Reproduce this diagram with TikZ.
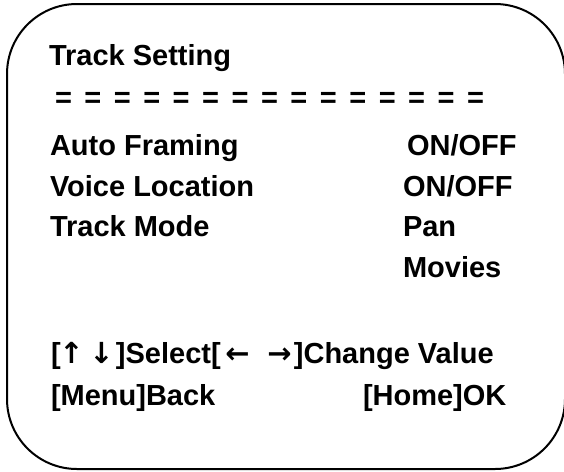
\documentclass[tikz,border=0pt]{standalone}
\usepackage{fontspec}
\setmainfont{Liberation Sans}
\newfontfamily\arrowfont{DejaVu Sans}
\newcommand{\ar}[1]{\makebox[0pt]{\arrowfont\bfseries #1}}
\begin{document}
\begin{tikzpicture}[x=1pt,y=-1pt,
  txt/.style={anchor=base west,inner sep=0pt,outer sep=0pt,font=\fontsize{29}{35}\selectfont\bfseries},
  frame/.style={draw=black,line width=2pt,rounded corners=70pt}]
\useasboundingbox (0,0) rectangle (564,471);
\clip (0,0) rectangle (564,471);
\draw[frame] (7,4) rectangle (565,469);
\node[txt] (title) at (49,65) {Track Setting};
\node[txt] (sep) at (55,107) {\spaceskip=12.5pt plus 0pt minus 0pt = = = = = = = = = = = = = = =};
\node[txt] (af) at (50,155) {Auto Framing};
\node[txt] (afv) at (407,155) {ON/OFF};
\node[txt] (vl) at (50,196) {Voice Location};
\node[txt] (vlv) at (403,196) {ON/OFF};
\node[txt] (tm) at (50,236) {Track Mode};
\node[txt] (tmv1) at (403,236) {Pan};
\node[txt] (tmv2) at (403,277) {Movies};
\node[txt] (keys) at (51,363) {[\hspace{10.8pt}\ar{↑}\hspace{30pt}\ar{↓}\hspace{14.5pt}]Select[\hspace{16.7pt}\ar{←}\hspace{42pt}\ar{→}\hspace{14.5pt}]Change Value};
\node[txt] (back) at (51,405) {[Menu]Back};
\node[txt] (ok) at (363,405) {[Home]OK};
\end{tikzpicture}
\end{document}
